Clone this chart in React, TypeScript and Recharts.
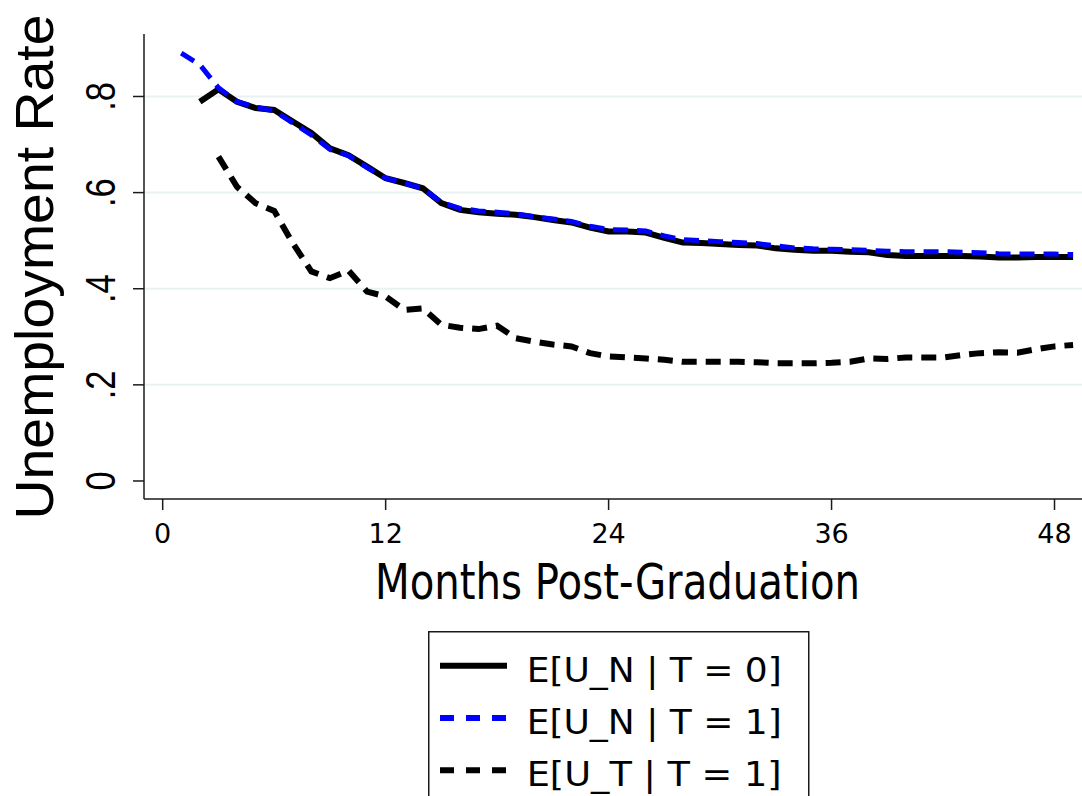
import React from 'react';
import { LineChart, Line, XAxis, YAxis, ReferenceLine, Legend } from 'recharts';

const months = [1, 2, 3, 4, 5, 6, 7, 8, 9, 10, 11, 12, 13, 14, 15, 16, 17, 18, 19, 20, 21, 22, 23, 24, 25, 26, 27, 28, 29, 30, 31, 32, 33, 34, 35, 36, 37, 38, 39, 40, 41, 42, 43, 44, 45, 46, 47, 48, 49];

const uNT0 = [null, 0.789, 0.815, 0.789, 0.776, 0.772, 0.748, 0.724, 0.692, 0.678, 0.654, 0.630, 0.620, 0.609, 0.578, 0.564, 0.559, 0.556, 0.554, 0.549, 0.543, 0.538, 0.527, 0.519, 0.519, 0.517, 0.506, 0.496, 0.495, 0.493, 0.491, 0.490, 0.484, 0.481, 0.479, 0.479, 0.477, 0.476, 0.470, 0.468, 0.468, 0.468, 0.468, 0.467, 0.465, 0.465, 0.466, 0.466, 0.466];

const uNT1 = [0.890, 0.866, 0.818, 0.789, 0.778, 0.770, 0.745, 0.720, 0.690, 0.677, 0.652, 0.630, 0.620, 0.609, 0.580, 0.567, 0.562, 0.559, 0.556, 0.550, 0.545, 0.540, 0.530, 0.523, 0.522, 0.520, 0.510, 0.502, 0.500, 0.498, 0.496, 0.494, 0.489, 0.485, 0.483, 0.482, 0.481, 0.480, 0.478, 0.477, 0.477, 0.477, 0.476, 0.475, 0.473, 0.472, 0.472, 0.472, 0.471];

const uTT1 = [null, null, 0.675, 0.612, 0.578, 0.562, 0.495, 0.436, 0.422, 0.438, 0.394, 0.384, 0.356, 0.359, 0.325, 0.319, 0.316, 0.323, 0.297, 0.290, 0.284, 0.280, 0.266, 0.259, 0.257, 0.255, 0.252, 0.248, 0.248, 0.248, 0.248, 0.247, 0.245, 0.245, 0.245, 0.246, 0.248, 0.255, 0.254, 0.257, 0.257, 0.257, 0.262, 0.266, 0.268, 0.267, 0.274, 0.280, 0.283];

const xTicks = [0, 12, 24, 36, 48];
const yTicks = [0, 0.2, 0.4, 0.6, 0.8];
const gridValues = [0.2, 0.4, 0.6, 0.8];
const seriesNames = ['E[U_N | T = 0]', 'E[U_N | T = 1]', 'E[U_T | T = 1]'];
const xTitle = 'Months Post-Graduation';
const yTitle = 'Unemployment Rate';

const data = months.map((m, i) => ({ month: m, uNT0: uNT0[i], uNT1: uNT1[i], uTT1: uTT1[i] }));

const AXIS = '#1a1a1a';
const BLUE = '#0000ff';
const GRID = '#eaf1f3';
const DASH = '15 9';

const fmtY = (v: number) => (v === 0 ? '0' : String(Number(v.toFixed(1))).replace(/^0/, ''));

const YTick = (props: any) => {
  const { y, payload } = props;
  return (
    <g transform={`translate(115, ${y}) rotate(-90)`}>
      <text x={0} y={0} textAnchor="middle" fontFamily="'Liberation Sans', Arial, sans-serif" fontSize={42} fill="#000" transform="scale(0.82,1)">
        {fmtY(payload.value)}
      </text>
    </g>
  );
};

const XTick = (props: any) => {
  const { x, payload } = props;
  return (
    <text x={x} y={543} textAnchor="middle" fontFamily="'DejaVu Sans', sans-serif" fontSize={27} fill="#000">
      {payload.value}
    </text>
  );
};

const YTitle = () => (
  <text transform="translate(53, 267) rotate(-90)" textAnchor="middle" fontFamily="'Liberation Sans', Arial, sans-serif" fontSize={53} fill="#000" textLength={505} lengthAdjust="spacingAndGlyphs">
    {yTitle}
  </text>
);

const XTitle = () => (
  <text x={375} y={599} fontFamily="'DejaVu Sans', sans-serif" fontSize={50} fill="#000" textLength={485} lengthAdjust="spacingAndGlyphs">
    {xTitle}
  </text>
);

const legendStyles = [
  { color: '#000', dash: undefined as string | undefined },
  { color: BLUE, dash: '14 12' },
  { color: '#000', dash: '14 12' },
];

const LegendBox = () => (
  <svg width={382} height={170} style={{ display: 'block' }}>
    <rect x={0.75} y={0.75} width={380} height={200} fill="#fff" stroke={AXIS} strokeWidth={1.5} />
    {seriesNames.map((name, i) => {
      const cy = 34.7 + i * 52.3;
      return (
        <g key={name}>
          <line x1={12} x2={79} y1={cy} y2={cy} stroke={legendStyles[i].color} strokeWidth={6} strokeDasharray={legendStyles[i].dash} />
          <text x={98.7} y={cy + 16} fontFamily="'DejaVu Sans', sans-serif" fontSize={34} fill="#000" textLength={255} lengthAdjust="spacingAndGlyphs">
            {name}
          </text>
        </g>
      );
    })}
  </svg>
);

export default function App() {
  return (
    <div style={{ position: 'absolute', left: 0, top: 0, width: 1082, height: 796, overflow: 'hidden', background: '#fff' }}>
      <LineChart width={1100} height={796} data={data} margin={{ top: 34, right: 10, bottom: 237, left: 0 }}>
        {gridValues.map((g) => (
          <ReferenceLine key={g} y={g} stroke={GRID} strokeWidth={2} ifOverflow="hidden" />
        ))}
        <XAxis
          dataKey="month"
          type="number"
          domain={[-1.006, 49.91]}
          allowDataOverflow
          ticks={xTicks}
          interval={0}
          height={60}
          tickSize={11}
          axisLine={{ stroke: AXIS, strokeWidth: 1.5 }}
          tickLine={{ stroke: AXIS, strokeWidth: 1.5 }}
          tick={(p: any) => <XTick {...p} />}
          label={<XTitle />}
        />
        <YAxis
          type="number"
          domain={[-0.0375, 0.93]}
          allowDataOverflow
          ticks={yTicks}
          interval={0}
          width={144}
          tickSize={11}
          axisLine={{ stroke: AXIS, strokeWidth: 1.5 }}
          tickLine={{ stroke: AXIS, strokeWidth: 1.5 }}
          tick={(p: any) => <YTick {...p} />}
          label={<YTitle />}
        />
        <Line type="linear" dataKey="uTT1" name={seriesNames[2]} stroke="#000" strokeWidth={6} strokeDasharray={DASH} dot={false} activeDot={false} isAnimationActive={false} />
        <Line type="linear" dataKey="uNT0" name={seriesNames[0]} stroke="#000" strokeWidth={6} dot={false} activeDot={false} isAnimationActive={false} />
        <Line type="linear" dataKey="uNT1" name={seriesNames[1]} stroke={BLUE} strokeWidth={5} strokeDasharray={DASH} dot={false} activeDot={false} isAnimationActive={false} />
        <Legend
          layout="vertical"
          align="center"
          verticalAlign="middle"
          content={() => <LegendBox />}
          wrapperStyle={{ position: 'absolute', left: 428, top: 631, width: 382, height: 170 }}
        />
      </LineChart>
    </div>
  );
}
